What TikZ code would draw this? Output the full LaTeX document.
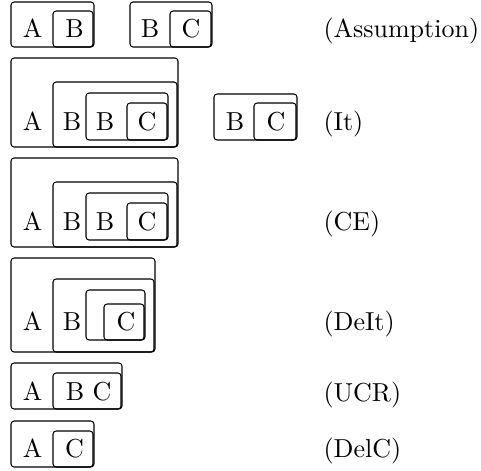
\documentclass[tikz,border=0pt]{standalone}
\usetikzlibrary{fit}
\begin{document}
\begin{tikzpicture}[x=0.3846pt,y=-0.3846pt,
  bx/.style={draw, line width=0.4pt, rounded corners=1.2pt, inner sep=0pt},
  sym/.style={anchor=base, inner sep=0pt},
  rule/.style={anchor=base west, inner sep=0pt}]
\useasboundingbox (0,0) rectangle (481,470);

% --- Assumption ---
\node[bx, fit={(11,2) (94,47)}] (a1o) {};
\node[bx, fit={(53,11) (93,47)}] (a1i) {};
\node[sym] (a1A) at (32.5,37) {A};
\node[sym] (a1B) at (74.5,37) {B};
\node[bx, fit={(130,2) (212,47)}] (a2o) {};
\node[bx, fit={(170,11) (211,47)}] (a2i) {};
\node[sym] (a2B) at (150,37) {B};
\node[sym] (a2C) at (191,37) {C};
\node[rule] (lAs) at (323,37) {(Assumption)};

% --- It ---
\node[bx, fit={(11,58) (178,147)}] (b1) {};
\node[bx, fit={(53,82) (177,147)}] (b2) {};
\node[bx, fit={(86,93) (168,140)}] (b3) {};
\node[bx, fit={(127,103) (167,140)}] (b4) {};
\node[sym] (bA) at (32.5,130) {A};
\node[sym] (bB1) at (72,130) {B};
\node[sym] (bB2) at (105,130) {B};
\node[sym] (bC) at (147,130) {C};
\node[bx, fit={(214,94) (297,140)}] (b5) {};
\node[bx, fit={(254,103) (296,140)}] (b6) {};
\node[sym] (bB3) at (235,130) {B};
\node[sym] (bC2) at (276,130) {C};
\node[rule] (lIt) at (323,130) {(It)};

% --- CE ---
\node[bx, fit={(11,158) (178,247)}] (c1) {};
\node[bx, fit={(53,182) (177,247)}] (c2) {};
\node[bx, fit={(86,193) (168,240)}] (c3) {};
\node[bx, fit={(127,203) (167,240)}] (c4) {};
\node[sym] (cA) at (32.5,230) {A};
\node[sym] (cB1) at (72,230) {B};
\node[sym] (cB2) at (105,230) {B};
\node[sym] (cC) at (147,230) {C};
\node[rule] (lCE) at (323,230) {(CE)};

% --- DeIt ---
\node[bx, fit={(11,258) (155,352)}] (d1) {};
\node[bx, fit={(53,279) (154,352)}] (d2) {};
\node[bx, fit={(86,290) (145,340)}] (d3) {};
\node[bx, fit={(104,304) (144,340)}] (d4) {};
\node[sym] (dA) at (32.5,330) {A};
\node[sym] (dB) at (72,330) {B};
\node[sym] (dC) at (126,330) {C};
\node[rule] (lDeIt) at (323,330) {(DeIt)};

% --- UCR ---
\node[bx, fit={(11,363) (122,409)}] (e1) {};
\node[bx, fit={(53,373) (121,409)}] (e2) {};
\node[sym] (eA) at (32.5,400) {A};
\node[sym] (eB) at (75,400) {B};
\node[sym] (eC) at (102,400) {C};
\node[rule] (lUCR) at (323,401) {(UCR)};

% --- DelC ---
\node[bx, fit={(11,421) (94,467)}] (f1) {};
\node[bx, fit={(53,431) (93,467)}] (f2) {};
\node[sym] (fA) at (32.5,457) {A};
\node[sym] (fC) at (74.5,457) {C};
\node[rule] (lDelC) at (323,457) {(DelC)};
\end{tikzpicture}
\end{document}
